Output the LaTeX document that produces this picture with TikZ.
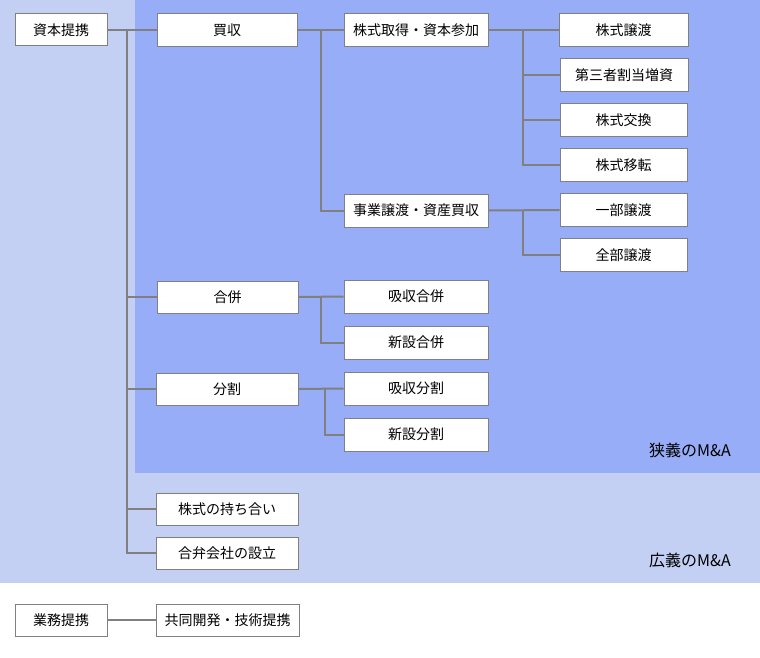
\documentclass[tikz,border=0pt]{standalone}
\usepackage{fontspec}
\setmainfont{Noto Sans CJK JP}
\definecolor{estreito}{HTML}{97ADF7}
\definecolor{amplo}{HTML}{C3CFF3}
\definecolor{linha}{HTML}{808080}
\tikzset{
  caixa/.style={draw=linha, fill=white, line width=1pt, minimum height=33pt, inner sep=0pt, font=\fontsize{14}{16}\selectfont},
  liga/.style={draw=linha, line width=2pt},
  rotulo/.style={anchor=east, inner sep=0pt, font=\fontsize{16}{18}\selectfont}
}
\begin{document}
\begin{tikzpicture}[x=1pt,y=-1pt] %Início do diagrama
  \useasboundingbox (0,0) rectangle (760,658);
    %Fundos
  \fill[amplo] (0,0) rectangle (760,583); %Sentido amplo
  \fill[estreito] (135,0) rectangle (760,473); %Sentido estrito
  \node[rotulo] (kyogi) at (731,450) {狭義のM\&A};
  \node[rotulo] (kogi) at (731,560) {広義のM\&A};
    %Caixas da esquerda
  \node[caixa, minimum width=92pt, minimum height=32pt] (shihon) at (61,30) {資本提携};
  \node[caixa, minimum width=92pt, minimum height=32pt] (gyomu) at (61,620) {業務提携};
    %Segundo nível
  \node[caixa, minimum width=140pt] (baishu) at (227,30) {買収};
  \node[caixa, minimum width=141pt, minimum height=32pt] (gappei) at (227.5,297) {合併};
  \node[caixa, minimum width=142pt, minimum height=32pt] (bunkatsu) at (227,389) {分割};
  \node[caixa, minimum width=142pt, minimum height=32pt] (mochiai) at (227,509) {株式の持ち合い};
  \node[caixa, minimum width=142pt, minimum height=32pt] (goben) at (227,553) {合弁会社の設立};
  \node[caixa, minimum width=143pt, minimum height=32pt] (kyodo) at (227.5,620) {共同開発・技術提携};
    %Terceiro nível
  \node[caixa, minimum width=144pt] (kabu) at (416,30) {株式取得・資本参加};
  \node[caixa, minimum width=144pt] (jigyo) at (416,210.5) {事業譲渡・資産買収};
  \node[caixa, minimum width=144pt] (kyugappei) at (416,296.5) {吸収合併};
  \node[caixa, minimum width=144pt] (shingappei) at (416,342.5) {新設合併};
  \node[caixa, minimum width=144pt] (kyubunkatsu) at (416,388.5) {吸収分割};
  \node[caixa, minimum width=144pt] (shinbunkatsu) at (416,434.5) {新設分割};
    %Quarto nível
  \node[caixa, minimum width=129pt] (joto) at (623.5,30) {株式譲渡};
  \node[caixa, minimum width=128pt] (daisan) at (624,75) {第三者割当増資};
  \node[caixa, minimum width=127pt] (kokan) at (623.5,120) {株式交換};
  \node[caixa, minimum width=127pt] (iten) at (623.5,165) {株式移転};
  \node[caixa, minimum width=127pt] (ichibu) at (623.5,210) {一部譲渡};
  \node[caixa, minimum width=127pt] (zenbu) at (623.5,255) {全部譲渡};
    %Pontos de ramificação
  \coordinate (r0) at (127,30);
  \coordinate (r1) at (321,30);
  \coordinate (r2) at (523,30);
  \coordinate (r3) at (523,210);
  \coordinate (r4) at (321,297);
  \coordinate (r5) at (325,389);
    %Ligações
  \draw[liga] (shihon.east) -- (baishu.west);
  \foreach \alvo in {gappei,bunkatsu,mochiai,goben}
    \draw[liga] (r0) |- (\alvo.west);
  \draw[liga] (baishu.east) -- (kabu.west);
  \draw[liga] (r1) |- (jigyo.west);
  \draw[liga] (kabu.east) -- (joto.west);
  \foreach \alvo in {daisan,kokan,iten}
    \draw[liga] (r2) |- (\alvo.west);
  \draw[liga] (jigyo.east) -- (ichibu.west);
  \draw[liga] (r3) |- (zenbu.west);
  \draw[liga] (gappei.east) -- (kyugappei.west);
  \draw[liga] (r4) |- (shingappei.west);
  \draw[liga] (bunkatsu.east) -- (kyubunkatsu.west);
  \draw[liga] (r5) |- (shinbunkatsu.west);
  \draw[liga] (gyomu.east) -- (kyodo.west);
\end{tikzpicture} %Fim do diagrama
\end{document}
